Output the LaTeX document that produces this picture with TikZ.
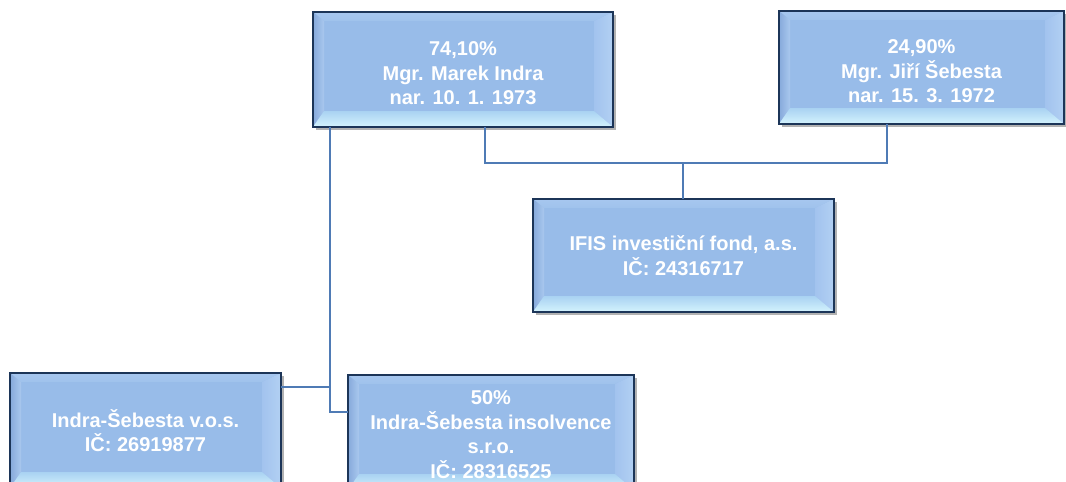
\documentclass[tikz,border=0pt]{standalone}
\usepackage{fontspec}
\setmainfont{Liberation Sans}
\usetikzlibrary{calc,backgrounds}
\definecolor{face}{HTML}{98BCE9}
\definecolor{btopA}{HTML}{A7C7EF}
\definecolor{btopB}{HTML}{9FC2EC}
\definecolor{bleftA}{HTML}{86A9DB}
\definecolor{bleftB}{HTML}{A9C8EE}
\definecolor{brightA}{HTML}{A2C3EE}
\definecolor{brightB}{HTML}{B2D0F3}
\definecolor{bbotA}{HTML}{A9D2F2}
\definecolor{bbotB}{HTML}{D4F3FD}
\definecolor{boxborder}{HTML}{1C3558}
\definecolor{connc}{HTML}{4F7BB5}
\newcommand\bevelbox[1]{%
\begin{scope}[on background layer]
\fill[black,opacity=.3] ([shift={(2.5pt,-2.5pt)}]#1.north west) rectangle ([shift={(2.5pt,-2.5pt)}]#1.south east);
\fill[face] (#1.north west) rectangle (#1.south east);
\coordinate (#1-a) at ([shift={(11pt,-9pt)}]#1.north west);
\coordinate (#1-b) at ([shift={(-19pt,-9pt)}]#1.north east);
\coordinate (#1-c) at ([shift={(-19pt,16pt)}]#1.south east);
\coordinate (#1-d) at ([shift={(11pt,16pt)}]#1.south west);
\shade[top color=btopA, bottom color=btopB] (#1.north west) -- (#1.north east) -- (#1-b) -- (#1-a) -- cycle;
\shade[left color=bleftA, right color=bleftB] (#1.north west) -- (#1-a) -- (#1-d) -- (#1.south west) -- cycle;
\shade[left color=brightA, right color=brightB] (#1.north east) -- (#1.south east) -- (#1-c) -- (#1-b) -- cycle;
\shade[top color=bbotA, bottom color=bbotB] (#1.south west) -- (#1-d) -- (#1-c) -- (#1.south east) -- cycle;
\end{scope}}
\tikzset{
  orgbox/.style={draw=boxborder, line width=2.4pt, rectangle, inner sep=0pt, outer sep=0pt,
    align=center, text=white, font=\bfseries\fontsize{20}{24.5}\selectfont},
  conn/.style={draw=connc, line width=1.4pt}
}
\begin{document}
\begin{tikzpicture}[x=1pt,y=-1pt]
\useasboundingbox (0,0) rectangle (1066,482);
\clip (0,0) rectangle (1066,482);
\node[orgbox, minimum width=300pt, minimum height=115pt] (m) at (463,69.5)
  {\rule{0pt}{22pt}74,10\%\\Mgr. Marek Indra\\nar. 10. 1. 1973};
\bevelbox{m}
\node[orgbox, minimum width=285pt, minimum height=113pt] (j) at (921.5,67.5)
  {\rule{0pt}{22pt}24,90\%\\Mgr. Jiří Šebesta\\nar. 15. 3. 1972};
\bevelbox{j}
\node[orgbox, minimum width=301pt, minimum height=113pt] (f) at (683.5,255.5)
  {IFIS investiční fond, a.s.\\IČ: 24316717};
\bevelbox{f}
\node[orgbox, minimum width=271pt, minimum height=115pt] (v) at (145.5,430.5)
  {Indra-Šebesta v.o.s.\\IČ: 26919877};
\bevelbox{v}
\node[orgbox, minimum width=286pt, minimum height=115pt] (s) at (491,432.5)
  {\rule{0pt}{18pt}50\%\\Indra-Šebesta insolvence\\s.r.o.\\IČ: 28316525};
\bevelbox{s}
% connectors
\coordinate (mx) at ([xshift=17pt]m.south west);
\coordinate (sy) at ([yshift=20.5pt]s.west);
\coordinate (vy) at ([yshift=43.5pt]v.east);
\draw[conn] (mx) |- (sy);
\draw[conn] (vy) -- (vy -| mx);
\coordinate (ma) at ([xshift=172pt]m.south west);
\coordinate (ja) at ([xshift=108pt]j.south west);
\coordinate (bus) at (683,163);
\draw[conn] (ma) -- (ma |- bus) -- (ja |- bus) -- (ja);
\draw[conn] (bus) -- (bus |- f.north);
\end{tikzpicture}
\end{document}
